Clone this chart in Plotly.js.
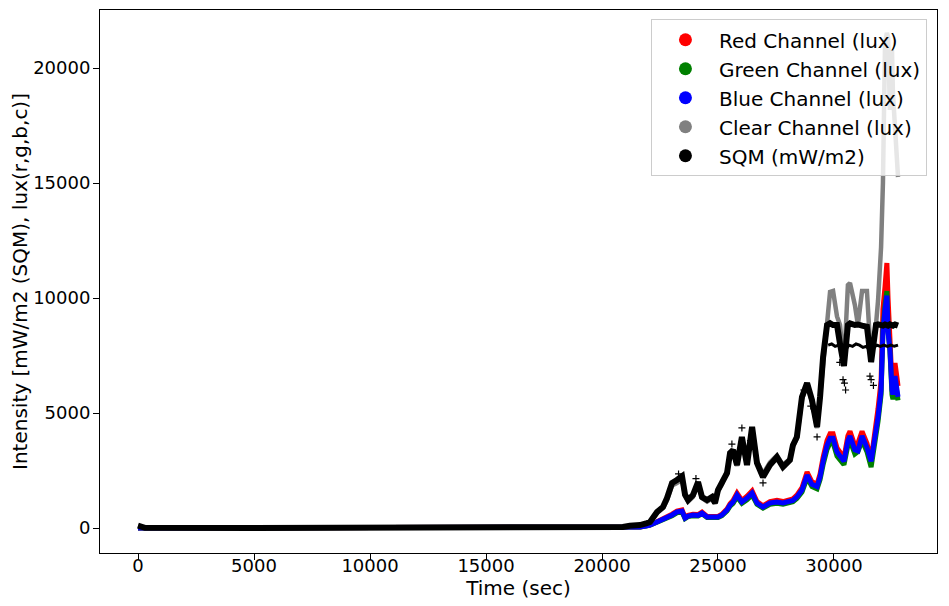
<!DOCTYPE html>
<html>
<head>
<meta charset="utf-8">
<script src="https://cdn.plot.ly/plotly-3.0.1.min.js"></script>
<style>html,body{margin:0;padding:0;background:#fff;}#chart{width:949px;height:606px;}</style>
</head>
<body>
<div id="chart"></div>
<script>
// Time (sec) sample points
var timeSec = [0, 300, 5000, 10000, 15000, 20000, 20650, 20900, 21200, 21640, 21940,
  22070, 22370, 22630, 22800, 23020, 23230, 23450, 23580, 23710, 23920,
  24140, 24310, 24530, 24740, 24870, 25000, 25170, 25390, 25520, 25650,
  25820, 26030, 26250, 26470, 26680, 26940, 27240, 27540, 27800, 28100,
  28230, 28400, 28620, 28840, 29050, 29270, 29400, 29530, 29700, 29830,
  29960, 30130, 30260, 30430, 30600, 30690, 30900, 31030, 31210, 31420,
  31600, 31810, 31900, 32030, 32110, 32200, 32280, 32330, 32410, 32500,
  32540, 32630, 32720, 32760];

var redLux = [0,0,0,0,0,0,
  0,0,22,46,105,
  138,275,400,460,600,
  740,790,460,550,600,
  585,690,505,505,505,
  505,600,830,1060,1200,
  1520,1200,1380,1610,1150,
  965,1150,1200,1150,1200,
  1270,1430,1750,2430,2010,
  1900,2350,3070,3800,4100,
  4100,3480,3270,3060,4010,
  4200,3580,3680,4200,3680,
  2950,4400,5200,6400,9500,
  10500,11522,10000,8000,6300,
  6400,7170,6500,6174];

var greenLux = [0,0,0,0,0,0,
  0,0,19,41,95,
  124,248,360,412,535,
  660,700,412,493,535,
  520,618,452,452,452,
  452,535,742,950,1070,
  1360,1070,1230,1440,1030,
  865,1030,1070,1030,1070,
  1140,1280,1565,2180,1800,
  1700,2100,2750,3420,3700,
  3700,3130,2940,2750,3600,
  3800,3220,3320,3800,3320,
  2650,4000,4650,5800,8600,
  9700,10300,8600,7700,5800,
  5600,6450,5850,5550];

var blueLux = [0,0,0,0,0,0,
  0,0,20,43,100,
  130,261,380,435,565,
  696,739,435,520,565,
  550,652,478,478,478,
  478,565,783,1000,1130,
  1435,1130,1300,1522,1087,
  913,1087,1130,1087,1130,
  1200,1350,1652,2300,1900,
  1800,2217,2900,3600,3900,
  3900,3300,3100,2900,3800,
  4000,3400,3350,4000,3500,
  2900,4200,4826,6000,8522,
  9500,10100,8522,7783,6000,
  5800,6609,6000,5700];

var clearLux = [90,10,0,0,0,0,
  0,40,90,120,200,
  240,650,870,1200,1850,
  1950,2100,1400,1150,1350,
  1900,1300,1150,1280,1050,
  1600,1900,2450,3150,3300,
  2700,3850,2800,4300,2900,
  2350,2850,3150,2750,3000,
  3550,3900,5600,6200,5500,
  4350,5650,7400,9043,10260,
  10304,9200,8826,7043,10565,
  10652,9696,8826,10304,10304,
  7217,8826,9900,12217,15000,
  21087,21522,21348,18174,20783,
  18913,17000,15870,15261];

var sqmMW = [100,10,0,0,0,0,
  0,43,100,130,217,
  261,696,913,1300,1957,
  2087,2250,1450,1217,1435,
  2000,1350,1217,1348,1087,
  1652,1957,2391,3261,3391,
  2739,3957,2739,4391,2826,
  2217,2739,3087,2652,2957,
  3600,3957,5696,6304,5565,
  4391,5696,7435,8826,8900,
  8826,8826,8000,7043,8826,
  8900,8826,8850,8800,8750,
  7217,8826,8850,8826,8800,
  8850,8826,8800,8850,8826,
  8800,8850,8826,8800];

// lower SQM band and scattered SQM points
var sqmBandTime = [29750, 29900, 30050, 30200, 30350, 30500, 30650, 30800, 30950, 31100, 31250,
  31400, 31550, 31700, 31850, 32000, 32150, 32300, 32450, 32600, 32760];
var sqmBandMW = [7950, 8000, 7900, 7950, 7700, 7750, 7950, 7900, 8000, 7950, 7850,
  7900, 7700, 7850, 7950, 7900, 7950, 7900, 7950, 7900, 7950];
var sqmOutTime = [23300, 24050, 25600, 26030, 26400, 26940, 28700, 29000, 29270, 30250, 30390, 30450, 30500, 31550, 31600, 31700];
var sqmOutMW = [2350, 2150, 3650, 4350, 3800, 1960, 6000, 5300, 3960, 7200, 6450, 6300, 6000, 6600, 6450, 6200];

var seriesNames = ['Red Channel (lux)', 'Green Channel (lux)', 'Blue Channel (lux)', 'Clear Channel (lux)', 'SQM (mW/m2)'];
var seriesColors = ['#ff0000', '#008000', '#0000ff', '#808080', '#000000'];
var seriesData = [redLux, greenLux, blueLux, clearLux, sqmMW];
var seriesWidths = [5, 5, 5, 4.5, 6];

var traces = [];
for (var i = 0; i < seriesData.length; i++) {
  traces.push({
    x: timeSec, y: seriesData[i], type: 'scatter', mode: 'lines',
    line: {color: seriesColors[i], width: seriesWidths[i]},
    showlegend: false, hoverinfo: 'skip'
  });
  if (i === 4) {
    traces.push({
      x: sqmBandTime, y: sqmBandMW, type: 'scatter', mode: 'lines',
      line: {color: '#000000', width: 3}, showlegend: false, hoverinfo: 'skip'
    });
    traces.push({
      x: sqmOutTime, y: sqmOutMW, type: 'scatter', mode: 'markers',
      marker: {color: '#000000', symbol: 'cross-thin', size: 5, line: {color: '#000000', width: 1.2}},
      showlegend: false, hoverinfo: 'skip'
    });
  }
}
// legend entries
for (var j = 0; j < seriesNames.length; j++) {
  traces.push({
    x: [null], y: [null], type: 'scatter', mode: 'markers', name: seriesNames[j],
    legendgroup: 'g' + j,
    marker: {color: seriesColors[j], size: 13, symbol: 'circle'}
  });
}

var font = 'DejaVu Sans, sans-serif';
var layout = {
  width: 949, height: 606,
  margin: {l: 100, r: 12, t: 10, b: 53},
  paper_bgcolor: '#ffffff', plot_bgcolor: '#ffffff',
  font: {family: font, color: '#000000', size: 18},
  showlegend: true,
  legend: {
    x: 0.988, y: 0.983, xanchor: 'right', yanchor: 'top',
    bgcolor: 'rgba(255,255,255,0.8)', bordercolor: '#cccccc', borderwidth: 1,
    font: {family: font, size: 20, color: '#000000'},
    traceorder: 'grouped', tracegroupgap: 0, itemsizing: 'trace', itemwidth: 57
  },
  xaxis: {
    range: [-1638, 34440], showgrid: false, zeroline: false,
    showline: true, mirror: true, linecolor: '#000000', linewidth: 1,
    ticks: 'outside', ticklen: 6, tickwidth: 1, tickcolor: '#000000',
    ticklabelstandoff: -10, automargin: true,
    tickvals: [0, 5000, 10000, 15000, 20000, 25000, 30000],
    ticktext: ['0', '5000', '10000', '15000', '20000', '25000', '30000'],
    tickfont: {size: 18, family: font},
    title: {text: 'Time (sec)', font: {size: 20, family: font}, standoff: 4}
  },
  yaxis: {
    range: [-1087, 22522], showgrid: false, zeroline: false,
    showline: true, mirror: true, linecolor: '#000000', linewidth: 1,
    ticks: 'outside', ticklen: 6, tickwidth: 1, tickcolor: '#000000',
    ticklabelstandoff: -1, automargin: true,
    tickvals: [0, 5000, 10000, 15000, 20000],
    ticktext: ['0', '5000', '10000', '15000', '20000'],
    tickfont: {size: 18, family: font},
    title: {text: 'Intensity [mW/m2 (SQM), lux(r,g,b,c)]', font: {size: 20, family: font}, standoff: 0}
  }
};

Plotly.newPlot('chart', traces, layout, {displayModeBar: false, staticPlot: true});
</script>
</body>
</html>
